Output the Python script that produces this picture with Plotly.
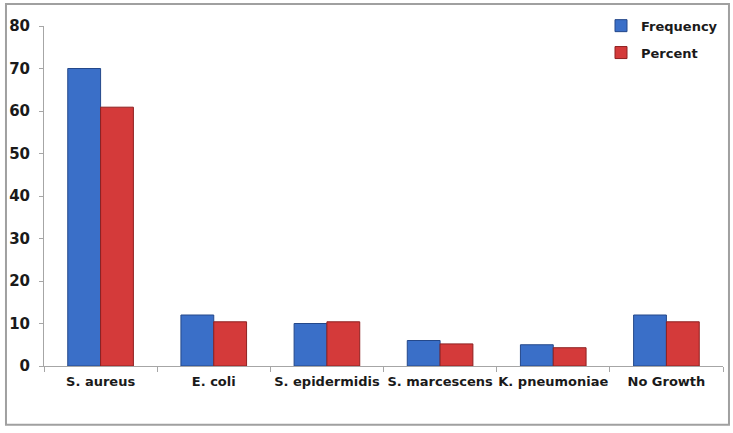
import plotly.graph_objects as go

categories = ["S. aureus", "E. coli", "S. epidermidis", "S. marcescens", "K. pneumoniae", "No Growth"]
frequency = [70, 12, 10, 6, 5, 12]
percent = [60.9, 10.4, 10.4, 5.2, 4.3, 10.4]
y_ticks = [0, 10, 20, 30, 40, 50, 60, 70, 80]

FONT = "DejaVu Sans"
TEXT = "#1a1a1a"

fig = go.Figure()
fig.add_trace(go.Bar(
    name="Frequency", x=categories, y=frequency,
    marker=dict(color="#3a6fc8", line=dict(color="#24488a", width=1)),
    legendgroup="a",
))
fig.add_trace(go.Bar(
    name="Percent", x=categories, y=percent,
    marker=dict(color="#d43a3a", line=dict(color="#8e2020", width=1)),
    legendgroup="b",
))

fig.update_layout(
    width=733, height=433,
    margin=dict(l=44, r=10, t=26, b=67, autoexpand=False),
    paper_bgcolor="white", plot_bgcolor="white",
    barmode="group", bargap=0.42, bargroupgap=0,
    font=dict(family=FONT, size=13, color=TEXT, weight="bold"),
    showlegend=True,
    legend=dict(
        x=1.0, xanchor="right", y=1.045, yanchor="top",
        font=dict(family=FONT, size=13, color=TEXT, weight="bold"),
        bgcolor="rgba(0,0,0,0)", tracegroupgap=7, traceorder="grouped",
        itemwidth=30,
    ),
    xaxis=dict(
        showline=True, linecolor="#a6a6a6", linewidth=1, tickangle=0,
        ticks="outside", tickson="boundaries", ticklen=5, tickcolor="#a6a6a6",
        ticklabelstandoff=3,
        tickfont=dict(family=FONT, size=13, color=TEXT, weight="bold"),
        showgrid=False, zeroline=False,
    ),
    yaxis=dict(
        range=[0, 80], tickvals=y_ticks, showline=True, linecolor="#a6a6a6", linewidth=1,
        ticks="outside", ticklen=4, tickcolor="#a6a6a6", ticklabelstandoff=6,
        tickfont=dict(family=FONT, size=15, color=TEXT, weight="bold"),
        showgrid=False, zeroline=False,
    ),
    shapes=[dict(
        type="rect", xref="paper", yref="paper",
        x0=-0.056, x1=1.0088, y0=-0.173, y1=1.0647,
        line=dict(color="#a0a0a0", width=2), fillcolor="rgba(0,0,0,0)", layer="below",
    )],
)

fig.write_html(
    "out.html",
    config={"displayModeBar": False},
    post_script="document.body.style.margin='0';document.body.style.overflow='hidden';",
)
